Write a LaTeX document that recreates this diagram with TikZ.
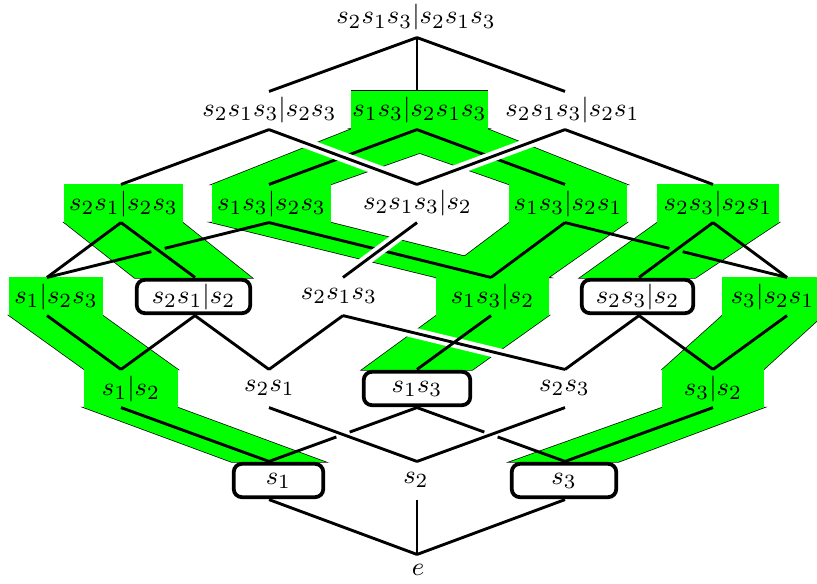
\documentclass[tikz,border=0pt]{standalone}
\usetikzlibrary{calc}
\pgfdeclarelayer{bg}
\pgfsetlayers{bg,main}
\newcommand{\PX}{0.347pt}
\newcommand{\Bands}[1]{%
 \path[#1] (C1L.north west) rectangle (C1L.south east);
 \path[#1] (C1L.south west) -- (C1L.south east) -- (D2L.north east) -- (D2L.north west) -- cycle;
 \path[#1] (D1L.north west) rectangle (D1L.south east);
 \path[#1] (D1L.south west) -- (D1L.south east) -- (E1L.north east) -- (E1L.north west) -- cycle;
 \path[#1] (E1L.north west) rectangle (E1L.south east);
 \path[#1] (E1L.south west) -- (E1L.south east) -- (F1L.north east) -- (F1L.north west) -- cycle;
 \path[#1] (B2L.north west) rectangle (B2L.south east);
 \path[#1] (B2L.south west) -- (B2L.south east) -- (C2L.north east) -- (C2L.north west) -- cycle;
 \path[#1] (B2L.south west) -- (B2L.south east) -- (C4L.north east) -- (C4L.north west) -- cycle;
 \path[#1] (C2L.north west) rectangle (C2L.south east);
 \path[#1] (C4L.north west) rectangle (C4L.south east);
 \path[#1] (C2L.south west) -- (C2L.south east) -- (D4L.north east) -- (D4L.north west) -- cycle;
 \path[#1] (C4L.south west) -- (C4L.south east) -- (D4L.north east) -- (D4L.north west) -- cycle;
 \path[#1] (D4L.north west) rectangle (D4L.south east);
 \path[#1] (D4L.south west) -- (D4L.south east) -- (E3L.north east) -- (E3L.north west) -- cycle;
 \path[#1] (C5L.north west) rectangle (C5L.south east);
 \path[#1] (C5L.south west) -- (C5L.south east) -- (D5L.north east) -- (D5L.north west) -- cycle;
 \path[#1] (D6L.north west) rectangle (D6L.south east);
 \path[#1] (D6L.south west) -- (D6L.south east) -- (E5L.north east) -- (E5L.north west) -- cycle;
 \path[#1] (E5L.north west) rectangle (E5L.south east);
 \path[#1] (E5L.south west) -- (E5L.south east) -- (F3L.north east) -- (F3L.north west) -- cycle;
}
\tikzset{
  hub/.style={inner sep=0pt, minimum width=0pt, minimum height={37*\PX}},
  lab/.style={inner sep=0pt},
  gbox/.style={inner sep=0pt, minimum height={37*\PX}},
  wbox/.style={draw, line width=1.3pt, rounded corners=2.8pt, fill=white, inner sep=0pt, minimum height={33.3*\PX}},
  edge/.style={line width=1pt},
  halo/.style={draw=white, line width=3.6pt},
  bandline/.style={fill=green, draw=black, line width=0.5pt},
  bandfill/.style={fill=green},
}
\begin{document}
\begin{tikzpicture}[x=0.347pt,y=-0.347pt,font=\fontsize{9.3}{11}\selectfont]
\useasboundingbox (0,0) rectangle (817,583);
% junction hubs
\foreach \n/\x/\y in {A/417/18.5,
  B1/269/110.5, B2/417/110.5, B3/565/110.5,
  C1/121/203.5, C2/269/203.5, C3/417/203.5, C4/565/203.5, C5/713/203.5,
  D1/47/296.5, D2/195/296.5, D3/343/296.5, D4/491/296.5, D5/639/296.5, D6/787/296.5,
  E1/121/388.5, E2/269/388.5, E3/417/388.5, E4/565/388.5, E5/713/388.5,
  F1/269/480.5, F2/417/480.5, F3/565/480.5,
  G/417/573.5}
  \node[hub] (\n) at (\x,\y) {};
% labels
\node[lab] (AL) at (416,17.5) {$s_2s_1s_3|s_2s_1s_3$};
\node[lab] (B1L) at (269.5,109.5) {$s_2s_1s_3|s_2s_3$};
\node[gbox, minimum width={135*\PX}] (B2L) at (419.5,110) {$s_1s_3|s_2s_1s_3$};
\node[lab] (B3L) at (572.5,109.5) {$s_2s_1s_3|s_2s_1$};
\node[gbox, minimum width={117*\PX}] (C1L) at (123.5,203.5) {$s_2s_1|s_2s_3$};
\node[gbox, minimum width={117*\PX}] (C2L) at (271.5,203.5) {$s_1s_3|s_2s_3$};
\node[lab] (C3L) at (417.5,202.5) {$s_2s_1s_3|s_2$};
\node[gbox, minimum width={116*\PX}] (C4L) at (568,203.5) {$s_1s_3|s_2s_1$};
\node[gbox, minimum width={120*\PX}] (C5L) at (718,203.5) {$s_2s_3|s_2s_1$};
\node[gbox, minimum width={92*\PX}] (D1L) at (56,296.5) {$s_1|s_2s_3$};
\node[wbox, minimum width={113.5*\PX}] (D2L) at (193.5,296.5) {$s_2s_1|s_2$};
\node[lab] (D3L) at (339,295.5) {$s_2s_1s_3$};
\node[gbox, minimum width={111*\PX}] (D4L) at (492.5,296.5) {$s_1s_3|s_2$};
\node[wbox, minimum width={111.5*\PX}] (D5L) at (637.5,296.5) {$s_2s_3|s_2$};
\node[gbox, minimum width={99*\PX}] (D6L) at (772.5,296.5) {$s_3|s_2s_1$};
\node[gbox, minimum width={92*\PX}] (E1L) at (131,388.5) {$s_1|s_2$};
\node[lab] (E2L) at (269.5,387.5) {$s_2s_1$};
\node[wbox, minimum width={106.5*\PX}] (E3L) at (417,388.5) {$s_1s_3$};
\node[lab] (E4L) at (564.5,387.5) {$s_2s_3$};
\node[gbox, minimum width={100*\PX}] (E5L) at (713,388.5) {$s_3|s_2$};
\node[wbox, minimum width={89.5*\PX}] (F1L) at (278.5,480.5) {$s_1$};
\node[lab] (F2L) at (416,479.5) {$s_2$};
\node[wbox, minimum width={104.5*\PX}] (F3L) at (564,480.5) {$s_3$};
\node[lab] (GL) at (418,569.5) {$e$};
% green bands
\begin{pgfonlayer}{bg}
  \Bands{bandline}
  \Bands{bandfill}
\end{pgfonlayer}
% plain edges
\draw[edge] (A.south) -- (B1.north);
\draw[edge] (A.south) -- (B2.north);
\draw[edge] (A.south) -- (B3.north);
\draw[edge] (B1.south) -- (C1.north);
\draw[edge] (B2.south) -- (C2.north);
\draw[edge] (B2.south) -- (C4.north);
\draw[edge] (B3.south) -- (C5.north);
\draw[edge] (C1.south) -- (D1.north);
\draw[edge] (C1.south) -- (D2.north);
\draw[edge] (C2.south) -- ($(C2.south)!0.47!(D1.north)$);
\draw[edge] ($(C2.south)!0.53!(D1.north)$) -- (D1.north);
\draw[edge] (C2.south) -- (D4.north);
\draw[edge] (C4.south) -- (D4.north);
\draw[edge] (C4.south) -- ($(C4.south)!0.47!(D6.north)$);
\draw[edge] ($(C4.south)!0.53!(D6.north)$) -- (D6.north);
\draw[edge] (C5.south) -- (D5.north);
\draw[edge] (C5.south) -- (D6.north);
\draw[edge] (D1.south) -- (E1.north);
\draw[edge] (D2.south) -- (E1.north);
\draw[edge] (D2.south) -- (E2.north);
\draw[edge] (D3.south) -- (E2.north);
\draw[edge] (D5.south) -- (E4.north);
\draw[edge] (D5.south) -- (E5.north);
\draw[edge] (D6.south) -- (E5.north);
\draw[edge] (E1.south) -- (F1.north);
\draw[edge] (E2.south) -- (F2.north);
\draw[edge] (E3.south) -- ($(E3.south)!0.455!(F1.north)$);
\draw[edge] ($(E3.south)!0.545!(F1.north)$) -- (F1.north);
\draw[edge] (E3.south) -- ($(E3.south)!0.455!(F3.north)$);
\draw[edge] ($(E3.south)!0.545!(F3.north)$) -- (F3.north);
\draw[edge] (E4.south) -- (F2.north);
\draw[edge] (E5.south) -- (F3.north);
\draw[edge] (F1.south) -- (G.north);
\draw[edge] (F2.south) -- (G.north);
\draw[edge] (F3.south) -- (G.north);
% edges in front of the green bands
\path[halo] ($(B1.south)!0.15!(C3.north)$) -- ($(B1.south)!0.85!(C3.north)$);
\draw[edge] (B1.south) -- (C3.north);
\path[halo] ($(B3.south)!0.15!(C3.north)$) -- ($(B3.south)!0.85!(C3.north)$);
\draw[edge] (B3.south) -- (C3.north);
\path[halo] ($(C3.south)!0.15!(D3.north)$) -- ($(C3.south)!0.85!(D3.north)$);
\draw[edge] (C3.south) -- (D3.north);
\path[halo] ($(D3.south)!0.15!(E4.north)$) -- ($(D3.south)!0.85!(E4.north)$);
\draw[edge] (D3.south) -- (E4.north);
\draw[edge] (D4.south) -- (E3.north);
\end{tikzpicture}
\end{document}
